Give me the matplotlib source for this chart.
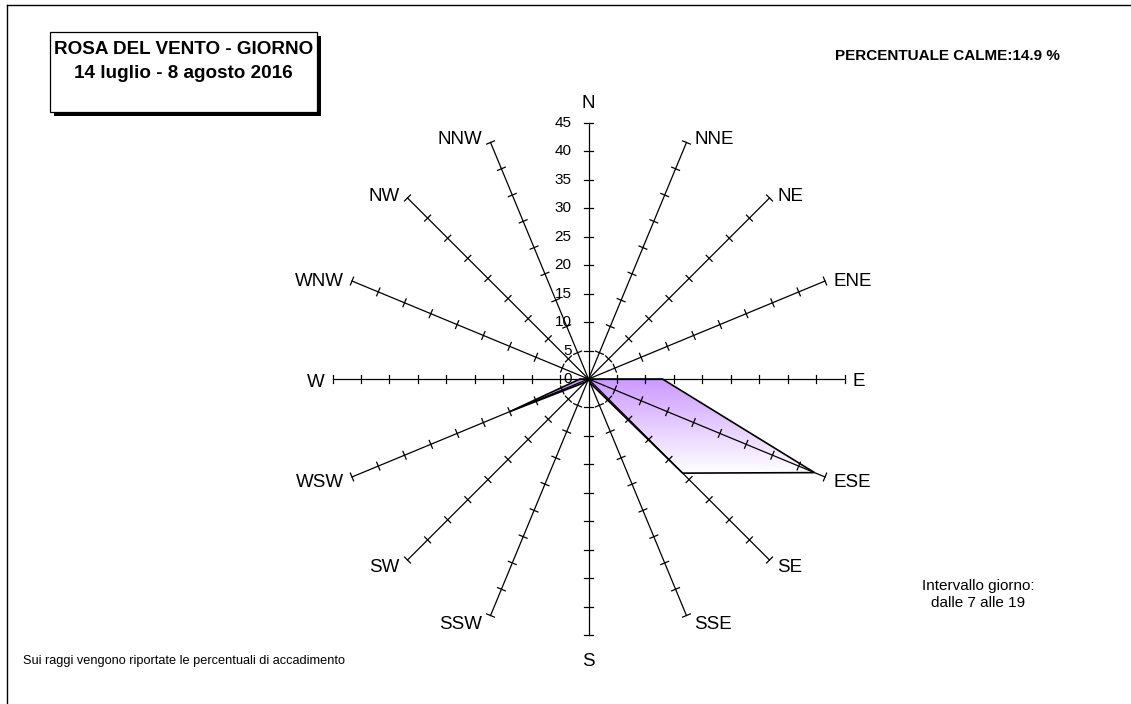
import numpy as np
import matplotlib
matplotlib.use("Agg")
import matplotlib.pyplot as plt
from matplotlib.patches import Polygon, Rectangle
from matplotlib.lines import Line2D

plt.rcParams['font.family'] = ['Liberation Sans', 'DejaVu Sans']

# ---- data ----
directions = ["N", "NNE", "NE", "ENE", "E", "ESE", "SE", "SSE",
              "S", "SSW", "SW", "WSW", "W", "WNW", "NW", "NNW"]
frequencies = [0.0, 0.0, 0.0, 0.0, 13.0, 43.0, 23.4, 0.8,
               0.0, 0.0, 0.8, 15.0, 1.5, 0.0, 0.0, 0.0]
radial_ticks = [0, 5, 10, 15, 20, 25, 30, 35, 40, 45]
title_lines = ["ROSA DEL VENTO - GIORNO", "14 luglio - 8 agosto 2016"]
calm_text = "PERCENTUALE CALME:14.9 %"
interval_text = "Intervallo giorno:\ndalle 7 alle 19"
note_text = "Sui raggi vengono riportate le percentuali di accadimento"

W, H = 1131, 704
fig = plt.figure(figsize=(W / 100, H / 100), dpi=100)

# axes geometry in pixels (center and scale)
cx, cy = 588.5, 379.0
px_per_unit = 256.0 / 45.0
lim = 50.0
half = lim * px_per_unit
ax = fig.add_axes([(cx - half) / W, (H - cy - half) / H, 2 * half / W, 2 * half / H])
ax.set_xlim(-lim, lim)
ax.set_ylim(-lim, lim)
ax.set_aspect('equal')
ax.axis('off')

rmax = radial_ticks[-1]
n = len(directions)
angles = np.arange(n) * 2 * np.pi / n  # clockwise from north
tick_half = 4.2 / px_per_unit
shift = -3 / px_per_unit

# spokes with ticks
for a, name in zip(angles, directions):
    ux, uy = np.sin(a), np.cos(a)
    px_, py_ = np.cos(a), -np.sin(a)  # perpendicular
    ax.plot([0, rmax * ux], [0, rmax * uy], color='black', lw=0.9, zorder=3)
    for r in radial_ticks[1:]:
        ax.plot([r * ux - tick_half * px_, r * ux + tick_half * px_],
                [r * uy - tick_half * py_, r * uy + tick_half * py_],
                color='black', lw=0.9, zorder=3)
    ex, ey = rmax * ux, rmax * uy
    if abs(ux) < 1e-6:
        d = 276 if uy > 0 else 283
        ax.text(0, np.sign(uy) * d / px_per_unit, name, ha='center', va='center',
                fontsize=13.5, zorder=5)
    else:
        ha = 'left' if ux > 0 else 'right'
        ox = np.sign(ux) * 8 / px_per_unit
        oy = 6 * uy / px_per_unit + shift
        ax.text(ex + ox, ey + oy, name, ha=ha, va='center', fontsize=13.5, zorder=5)

# radial tick labels on N axis
for r in radial_ticks:
    ax.text(-3.0, r, str(r), ha='right', va='center', fontsize=11, zorder=5)

# data polygon with gradient fill
xs = np.array([f * np.sin(a) for f, a in zip(frequencies, angles)])
ys = np.array([f * np.cos(a) for f, a in zip(frequencies, angles)])
verts = np.column_stack([xs, ys])
poly = Polygon(verts, closed=True, facecolor='none', edgecolor='black', lw=1.2, zorder=4)
ax.add_patch(poly)

top_c = np.array([0.80, 0.60, 1.0])
bot_c = np.array([1.0, 1.0, 1.0])
ymin, ymax = ys.min(), ys.max()
xmin, xmax = xs.min(), xs.max()
t = np.linspace(0, 1, 256)[:, None]
grad = (top_c[None, :] * (1 - t) + bot_c[None, :] * t)[:, None, :]
grad = np.repeat(grad, 2, axis=1)
im = ax.imshow(grad, extent=[xmin, xmax, ymin, ymax], origin='upper',
               aspect='auto', zorder=2, interpolation='bilinear')
clip_poly = Polygon(verts, closed=True, transform=ax.transData)
im.set_clip_path(clip_poly)
ax.set_xlim(-lim, lim)
ax.set_ylim(-lim, lim)

# frame lines (top and left of outer border)
fig.add_artist(Line2D([7 / W, 1.0], [1 - 5 / H, 1 - 5 / H], color='black', lw=1.0))
fig.add_artist(Line2D([7 / W, 7 / W], [1 - 5 / H, 0], color='black', lw=1.0))

# title box with shadow
bx0, by0, bw, bh = 50, 32, 267, 80
fig.add_artist(Rectangle(((bx0 + 4) / W, 1 - (by0 + bh + 4) / H), bw / W, bh / H,
                         transform=fig.transFigure, facecolor='black', edgecolor='black', lw=0))
fig.add_artist(Rectangle((bx0 / W, 1 - (by0 + bh) / H), bw / W, bh / H,
                         transform=fig.transFigure, facecolor='white', edgecolor='black', lw=0.9))
fig.text((bx0 + bw / 2) / W, 1 - 49 / H, title_lines[0], ha='center', va='center',
         fontsize=13.6, fontweight='bold')
fig.text((bx0 + bw / 2) / W, 1 - 73.5 / H, title_lines[1], ha='center', va='center',
         fontsize=13.6, fontweight='bold')

fig.text(835 / W, 1 - 56 / H, calm_text, ha='left', va='center', fontsize=11, fontweight='bold')
fig.text(978.5 / W, 1 - 594.5 / H, interval_text, ha='center', va='center', fontsize=11,
         linespacing=1.2)
fig.text(23 / W, 1 - 661 / H, note_text, ha='left', va='center', fontsize=9.2)

fig.savefig("out.png", dpi=100)
